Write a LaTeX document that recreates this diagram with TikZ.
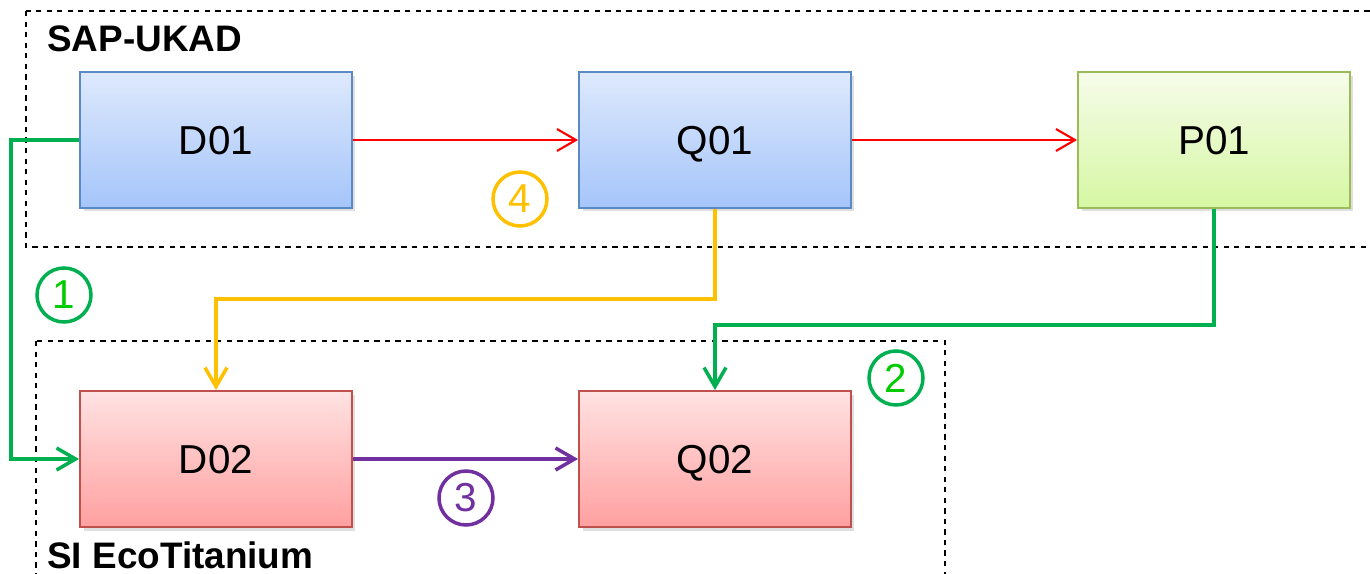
\documentclass[tikz,border=0pt]{standalone}
\usepackage{fontspec}
\setmainfont{Liberation Sans}
\usetikzlibrary{arrows.meta,shadows}
\definecolor{lgreen}{RGB}{0,176,80}
\definecolor{dgreen}{RGB}{0,204,0}
\definecolor{lorange}{RGB}{255,192,0}
\definecolor{lpurple}{RGB}{112,48,160}

\begin{document}
\begin{tikzpicture}[x=0.02cm, y=-0.02cm,
  sys/.style={draw=black, dashed, line width=0.9pt},
  syslabel/.style={font=\bfseries\fontsize{21}{25}\selectfont, inner sep=0, anchor=base west},
  box/.style={draw, line width=1.1pt, minimum width=5.44cm, minimum height=2.72cm,
    text height=16.5pt, text depth=0pt,
    font=\fontsize{23}{28}\selectfont, drop shadow={opacity=0.25, shadow xshift=2pt, shadow yshift=-2pt}},
  bluebox/.style={box, draw={rgb,255:red,90;green,138;blue,198}, top color={rgb,255:red,222;green,233;blue,252}, bottom color={rgb,255:red,165;green,197;blue,250}},
  redbox/.style={box, draw={rgb,255:red,192;green,80;blue,77}, top color={rgb,255:red,255;green,226;blue,226}, bottom color={rgb,255:red,255;green,160;blue,160}},
  greenbox/.style={box, draw={rgb,255:red,155;green,187;blue,89}, top color={rgb,255:red,246;green,252;blue,234}, bottom color={rgb,255:red,214;green,247;blue,163}},
  tip/.style={-{Straight Barb[length=3.8mm,width=4.4mm]}},
  red/.style={tip, draw=red, line width=1.2pt},
  flow/.style={tip, line width=2pt},
  num/.style={circle, draw, line width=2pt, minimum size=1.08cm, inner sep=0, font=\fontsize{23}{28}\selectfont}]
  \useasboundingbox (0,0) rectangle (1370,574);
  \clip (0,0) rectangle (1370,574);

  \draw[sys] (26,11) rectangle (1400,247);
  \draw[sys] (36,341) rectangle (945,600);
  \node[syslabel] (ukad) at (47,52) {SAP-UKAD};
  \node[syslabel] (eco) at (47,568) {SI EcoTitanium};

  \node[bluebox] (d01) at (216,140) {D01};
  \node[bluebox] (q01) at (715,140) {Q01};
  \node[greenbox] (p01) at (1214,140) {P01};
  \node[redbox] (d02) at (216,459) {D02};
  \node[redbox] (q02) at (715,459) {Q02};

  \draw[red] (d01.east) -- (q01.west);
  \draw[red] (q01.east) -- (p01.west);
  \draw[flow, lgreen] (d01.west) -- ++(-68,0) |- (d02.west);
  \draw[flow, lorange] (q01.south) -- ++(0,90) -| (d02.north);
  \draw[flow, lgreen] (p01.south) -- ++(0,116) -| (q02.north);
  \draw[flow, lpurple] (d02.east) -- (q02.west);

  \node[num, draw=lgreen, text=dgreen] (c1) at (64,295) {1};
  \node[num, draw=lgreen, text=dgreen] (c2) at (896,378) {2};
  \node[num, draw=lpurple, text=lpurple] (c3) at (466,498) {3};
  \node[num, draw=lorange, text=lorange] (c4) at (520,199) {4};
\end{tikzpicture}
\end{document}
